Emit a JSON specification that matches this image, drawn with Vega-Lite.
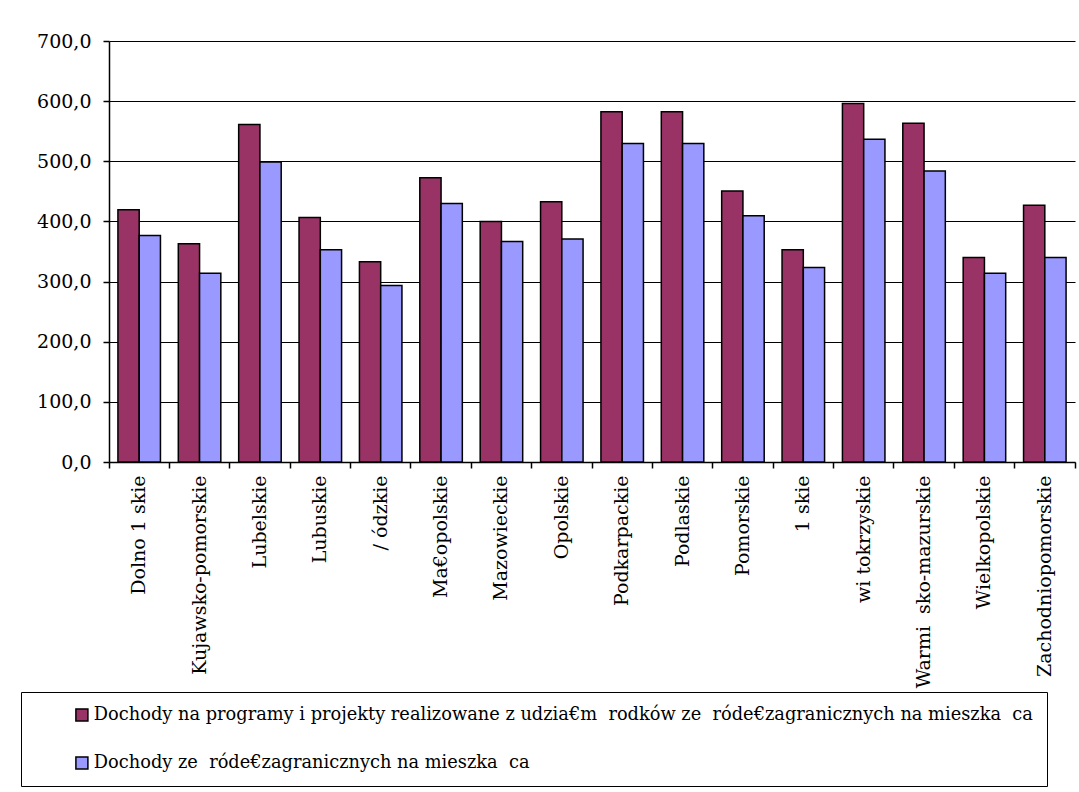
{
  "$schema": "https://vega.github.io/schema/vega-lite/v6.json",
  "width": 966,
  "height": 421,
  "autosize": {"type": "none"},
  "padding": {"left": 109, "top": 41, "right": 4, "bottom": 330},
  "background": "white",
  "config": {
    "view": {"stroke": null},
    "font": "DejaVu Serif",
    "style": {"guide-label": {"font": "DejaVu Serif"}},
    "axis": {"labelFont": "DejaVu Serif", "labelColor": "black", "domainColor": "black", "tickColor": "black"},
    "legend": {"strokeColor": "black", "labelFont": "DejaVu Serif", "labelFontSize": 17.8}
  },
  "data": {
    "values": [
      {"region": "Dolno 1 skie", "series": "A", "value": 419.5},
      {"region": "Dolno 1 skie", "series": "B", "value": 376.7},
      {"region": "Kujawsko-pomorskie", "series": "A", "value": 362.8},
      {"region": "Kujawsko-pomorskie", "series": "B", "value": 314.0},
      {"region": "Lubelskie", "series": "A", "value": 561.0},
      {"region": "Lubelskie", "series": "B", "value": 499.0},
      {"region": "Lubuskie", "series": "A", "value": 406.7},
      {"region": "Lubuskie", "series": "B", "value": 352.8},
      {"region": "/ ódzkie", "series": "A", "value": 332.8},
      {"region": "/ ódzkie", "series": "B", "value": 293.3},
      {"region": "Ma€opolskie", "series": "A", "value": 472.8},
      {"region": "Ma€opolskie", "series": "B", "value": 430.0},
      {"region": "Mazowieckie", "series": "A", "value": 400.0},
      {"region": "Mazowieckie", "series": "B", "value": 366.7},
      {"region": "Opolskie", "series": "A", "value": 432.8},
      {"region": "Opolskie", "series": "B", "value": 370.7},
      {"region": "Podkarpackie", "series": "A", "value": 582.3},
      {"region": "Podkarpackie", "series": "B", "value": 529.5},
      {"region": "Podlaskie", "series": "A", "value": 582.3},
      {"region": "Podlaskie", "series": "B", "value": 529.5},
      {"region": "Pomorskie", "series": "A", "value": 450.7},
      {"region": "Pomorskie", "series": "B", "value": 409.5},
      {"region": "1 skie", "series": "A", "value": 352.8},
      {"region": "1 skie", "series": "B", "value": 323.3},
      {"region": "wi tokrzyskie", "series": "A", "value": 596.0},
      {"region": "wi tokrzyskie", "series": "B", "value": 536.7},
      {"region": "Warmi\u00a0 sko-mazurskie", "series": "A", "value": 563.3},
      {"region": "Warmi\u00a0 sko-mazurskie", "series": "B", "value": 484.0},
      {"region": "Wielkopolskie", "series": "A", "value": 340.0},
      {"region": "Wielkopolskie", "series": "B", "value": 314.0},
      {"region": "Zachodniopomorskie", "series": "A", "value": 426.7},
      {"region": "Zachodniopomorskie", "series": "B", "value": 340.0}
    ]
  },
  "mark": {"type": "bar", "stroke": "black", "strokeWidth": 1.5},
  "encoding": {
    "x": {
      "field": "region",
      "type": "nominal",
      "sort": null,
      "scale": {"paddingInner": 0, "paddingOuter": 0},
      "axis": {
        "title": null,
        "labelAngle": -90,
        "labelFontSize": 19,
        "labelPadding": 7,
        "tickSize": 6,
        "bandPosition": 1,
        "tickExtra": true,
        "domainWidth": 1.5,
        "tickWidth": 1.5,
        "labelLimit": 0
      }
    },
    "xOffset": {
      "field": "series",
      "type": "nominal",
      "scale": {"paddingInner": 0, "paddingOuter": 0.42}
    },
    "y": {
      "field": "value",
      "type": "quantitative",
      "scale": {"domain": [0, 700]},
      "axis": {
        "title": null,
        "values": [0, 100, 200, 300, 400, 500, 600, 700],
        "labelExpr": "replace(format(datum.value, '.1f'), '.', ',')",
        "labelFontSize": 19,
        "labelPadding": 12,
        "tickSize": 6,
        "grid": true,
        "gridColor": "black",
        "gridOpacity": 1,
        "gridWidth": 1,
        "domainWidth": 1.5,
        "tickWidth": 1.5
      }
    },
    "fill": {
      "field": "series",
      "type": "nominal",
      "scale": {"domain": ["A", "B"], "range": ["#993366", "#9999FF"]},
      "legend": {
        "title": null,
        "orient": "none",
        "legendX": -88,
        "legendY": 651,
        "direction": "vertical",
        "labelExpr": "datum.value == 'A' ? 'Dochody na programy i projekty realizowane z udzia€m\u00a0 rodków ze\u00a0 róde€zagranicznych na mieszka\u00a0 ca' : 'Dochody ze\u00a0 róde€zagranicznych na mieszka\u00a0 ca'",
        "labelFont": "DejaVu Serif",
        "labelFontSize": 17.8,
        "labelColor": "black",
        "labelLimit": 0,
        "labelOffset": 3,
        "symbolType": "square",
        "symbolSize": 144,
        "symbolStrokeColor": "black",
        "symbolStrokeWidth": 1.5,
        "symbolOffset": 38,
        "rowPadding": 29,
        "padding": 14,
        "strokeColor": "black",
        "cornerRadius": 0,
        "encode": {
          "labels": {"update": {"font": {"value": "DejaVu Serif"}, "fontSize": {"value": 17.8}}}
        }
      }
    }
  }
}
